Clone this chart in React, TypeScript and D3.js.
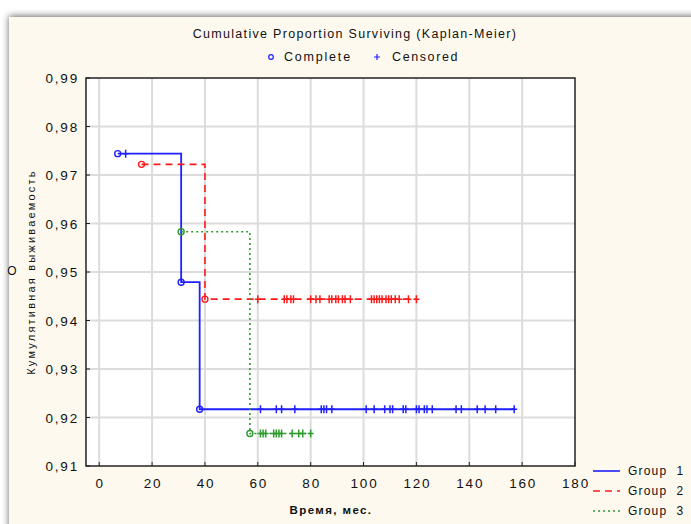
import React from "react";
import * as d3 from "d3";

// Kaplan-Meier data
const groupNames = ["Group  1", "Group  2", "Group  3"];
const groupColors = ["#1f1fff", "#ff1a1a", "#2e9a2e"];
const groupDash = ["none", "7,5", "2,3"];

const completeTimes1 = [7, 31, 38];
const survival1 = [0.9744, 0.9479, 0.9217];
const censored1 = [10, 61, 67, 69, 74, 84, 85, 86, 88, 101, 104, 108, 110, 111, 115, 116, 120, 121, 123, 124, 126, 135, 137, 143, 146, 150, 157];

const completeTimes2 = [16, 40];
const survival2 = [0.9722, 0.9444];
const censored2 = [60, 70, 71, 72.5, 73.5, 80, 82, 83.5, 87, 88, 89.5, 90.5, 92, 93, 95, 103, 104, 105, 106, 107, 108.5, 109.5, 110.5, 112, 113.5, 117, 120];

const completeTimes3 = [31, 57];
const survival3 = [0.9583, 0.9167];
const censored3 = [61, 62, 63, 66, 67, 68, 69, 73, 75.5, 77, 80];

const xTicks = [0, 20, 40, 60, 80, 100, 120, 140, 160, 180];
const yTicks = [0.91, 0.92, 0.93, 0.94, 0.95, 0.96, 0.97, 0.98, 0.99];

const groups = [
  { times: completeTimes1, surv: survival1, cens: censored1 },
  { times: completeTimes2, surv: survival2, cens: censored2 },
  { times: completeTimes3, surv: survival3, cens: censored3 },
];

// survival value at time t (step function)
function survAt(times: number[], surv: number[], t: number) {
  let s = surv[0];
  times.forEach((tt, i) => {
    if (tt <= t) s = surv[i];
  });
  return s;
}

const App = () => {
  const width = 691;
  const height = 524;
  const plot = { left: 86, right: 575, top: 78, bottom: 466 };

  const x = d3.scaleLinear().domain([-5, 180]).range([plot.left, plot.right]);
  const y = d3.scaleLinear().domain([0.91, 0.99]).range([plot.bottom, plot.top]);

  const line = d3
    .line<[number, number]>()
    .x((d) => x(d[0]))
    .y((d) => y(d[1]))
    .curve(d3.curveStepAfter);

  const font = "Arial, 'Liberation Sans', sans-serif";

  return (
    <svg
      width={width}
      height={height}
      style={{ position: "absolute", left: 0, top: 0 }}
      fontFamily={font}
    >
      <defs>
        <filter id="shadow" x="-5%" y="-5%" width="110%" height="110%">
          <feGaussianBlur in="SourceAlpha" stdDeviation="3.5" />
          <feOffset dx="0" dy="-1" result="b" />
          <feComponentTransfer>
            <feFuncA type="linear" slope="0.6" />
          </feComponentTransfer>
          <feMerge>
            <feMergeNode />
            <feMergeNode in="SourceGraphic" />
          </feMerge>
        </filter>
      </defs>
      <rect x={0} y={0} width={width} height={height} fill="#ffffff" />
      <rect x={9} y={17} width={width + 20} height={height + 20} fill="#fdf9ef" filter="url(#shadow)" />

      {/* titles */}
      <text x={355} y={38} textAnchor="middle" fontSize={12.5} fill="#111" letterSpacing={1.3}>
        Cumulative Proportion Surviving (Kaplan-Meier)
      </text>
      <circle cx={271} cy={57} r={2.3} fill="none" stroke="#1f1fff" strokeWidth={1.2} />
      <text x={284} y={61} fontSize={12.5} fill="#111" letterSpacing={1.8}>Complete</text>
      <path d="M374,57h6M377,54v6" stroke="#1f1fff" strokeWidth={1.2} />
      <text x={392} y={61} fontSize={12.5} fill="#111" letterSpacing={1.6}>Censored</text>

      {/* plot area */}
      <rect x={plot.left} y={plot.top} width={plot.right - plot.left} height={plot.bottom - plot.top} fill="#ffffff" />
      {xTicks.slice(0, -1).map((t) => (
        <line key={"gx" + t} x1={x(t)} x2={x(t)} y1={plot.top} y2={plot.bottom} stroke="#dcdcdc" strokeWidth={2} />
      ))}
      {yTicks.slice(1, -1).map((t) => (
        <line key={"gy" + t} x1={plot.left} x2={plot.right} y1={y(t)} y2={y(t)} stroke="#dcdcdc" strokeWidth={2} />
      ))}
      {yTicks.map((t) => (
        <g key={"ty" + t}>
          <line x1={plot.left} x2={plot.left + 4} y1={y(t)} y2={y(t)} stroke="#222" strokeWidth={1} />
          <text x={79} y={y(t) + 5} textAnchor="end" fontSize={13.5} fill="#111" letterSpacing={1.8}>
            {d3.format(".2f")(t).replace(".", ",")}
          </text>
        </g>
      ))}
      {xTicks.map((t) => (
        <g key={"tx" + t}>
          <line x1={x(t)} x2={x(t)} y1={plot.bottom} y2={plot.bottom - 4} stroke="#222" strokeWidth={1} />
          <text x={x(t) + 1} y={488} textAnchor="middle" fontSize={13.5} fill="#111" letterSpacing={1.8}>
            {t}
          </text>
        </g>
      ))}
      <rect
        x={plot.left}
        y={plot.top}
        width={plot.right - plot.left}
        height={plot.bottom - plot.top}
        fill="none"
        stroke="#222"
        strokeWidth={1.5}
      />

      {/* survival curves */}
      {groups.map((g, gi) => {
        const end = d3.max(g.cens) as number;
        const pts: [number, number][] = g.times.map((t, i) => [t, g.surv[i]]);
        pts.push([end, g.surv[g.surv.length - 1]]);
        return (
          <g key={"grp" + gi}>
            <path
              d={line(pts) || ""}
              fill="none"
              stroke={groupColors[gi]}
              strokeWidth={gi === 0 ? 1.8 : 1.6}
              strokeDasharray={groupDash[gi]}
            />
            {g.times.map((t, i) => (
              <circle
                key={"c" + i}
                cx={x(t)}
                cy={y(g.surv[i])}
                r={3}
                fill="none"
                stroke={groupColors[gi]}
                strokeWidth={1.4}
              />
            ))}
            {g.cens.map((t, i) => {
              const cx = x(t);
              const cy = y(survAt(g.times, g.surv, t));
              return (
                <path
                  key={"p" + i}
                  d={`M${cx - 3},${cy}h6M${cx},${cy - 4}v8`}
                  stroke={groupColors[gi]}
                  strokeWidth={1.5}
                />
              );
            })}
          </g>
        );
      })}

      {/* axis titles */}
      <text x={331} y={514} textAnchor="middle" fontSize={11.5} fontWeight="bold" fill="#111" letterSpacing={1.4}>
        Время, мес.
      </text>
      <text
        transform={`translate(35,${(plot.top + plot.bottom) / 2}) rotate(-90)`}
        textAnchor="middle"
        fontSize={11}
        fill="#111"
        letterSpacing={2.2}
      >
        Кумулятивная выживаемость
      </text>
      <text x={12} y={275} textAnchor="middle" fontSize={12} fill="#111">О</text>

      {/* group legend */}
      {groupNames.map((n, i) => {
        const ly = 471 + i * 20;
        return (
          <g key={"lg" + i}>
            <line
              x1={593}
              x2={620}
              y1={ly}
              y2={ly}
              stroke={groupColors[i]}
              strokeWidth={1.6}
              strokeDasharray={groupDash[i]}
            />
            <text x={628} y={ly + 4} fontSize={12} fill="#111" letterSpacing={1.2} style={{ whiteSpace: "pre" }}>
              {n}
            </text>
          </g>
        );
      })}
    </svg>
  );
};

export default App;
